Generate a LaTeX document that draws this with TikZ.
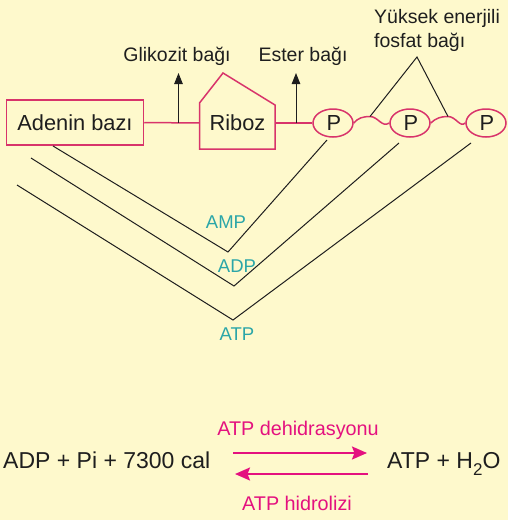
\documentclass[tikz,border=0pt]{standalone}
\usepackage{fontspec}
\setmainfont{Liberation Sans}
\usetikzlibrary{arrows.meta,shapes.geometric}
\definecolor{bg}{HTML}{FEF9CC}
\definecolor{pinkline}{HTML}{D8346B}
\definecolor{mag}{HTML}{E4117F}
\definecolor{tealc}{HTML}{2BA6A8}
\definecolor{ink}{HTML}{1E1E1E}
\newcommand{\fsz}[1]{\fontsize{#1}{#1}\selectfont}
\begin{document}
\begin{tikzpicture}[x=1pt,y=-1pt,
  pinkedge/.style={draw=pinkline,line width=1.5pt},
  thinline/.style={draw=ink,line width=1pt},
  bigtxt/.style={text=ink,font=\fsz{21.8},inner sep=0pt,anchor=base},
  smalltxt/.style={text=ink,font=\fsz{19.5},inner sep=0pt,anchor=base},
  tealtxt/.style={text=tealc,font=\fsz{18.5},inner sep=0pt,anchor=base},
  magtxt/.style={text=mag,font=\fsz{19.8},inner sep=0pt,anchor=base},
  eqtxt/.style={text=ink,font=\fsz{23},inner sep=0pt,anchor=base west},
  pball/.style={ellipse,pinkedge,minimum width=40pt,minimum height=28pt,inner sep=0pt},
  uparrow/.style={thinline,-{Triangle[width=8.5pt,length=11pt]}},
  magarrow/.style={draw=mag,line width=2pt,-{Stealth[width=13pt,length=15pt,inset=2.5pt]}}
]
\fill[bg] (0,0) rectangle (508,520);
\useasboundingbox (0,0) rectangle (508,520);

% Adenin box
\node[pinkedge,minimum width=137pt,minimum height=45pt,inner sep=0pt] (ade) at (75,122.5) {};
\node[bigtxt] (adet) at (75,130) {Adenin bazı};

% Riboz pentagon
\coordinate (ribL) at (199.5,123);
\coordinate (ribR) at (275,123);
\draw[pinkedge,line join=miter] (199.5,149) -- (199.5,103) -- (223,73) -- (275,105) -- (275,149) -- cycle;
\node[bigtxt] (rib) at (237.5,130) {Riboz};

% phosphates
\node[pball] (p1) at (333,123) {};
\node[pball] (p2) at (410,123) {};
\node[pball] (p3) at (486,123) {};
\node[bigtxt] at (334,130) {P};
\node[bigtxt] at (411,130) {P};
\node[bigtxt] at (487,130) {P};

% bonds
\draw[pinkedge] (ade.east) -- (ribL);
\draw[pinkedge] (ribR) -- (p1.west);
\coordinate (w1) at (370,116.5);
\coordinate (w2) at (448,116.5);
\draw[pinkedge] (p1.east) .. controls (358,118) and (363,116.5) .. (w1)
  .. controls (378,116.5) and (382,128) .. (p2.west);
\draw[pinkedge] (p2.east) .. controls (436,118) and (441,116.5) .. (w2)
  .. controls (456,116.5) and (460,128) .. (p3.west);

% bond arrows
\coordinate (g0) at (178.5,123);
\coordinate (g1) at (178.5,73);
\coordinate (e0) at (296,123);
\coordinate (e1) at (296,73);
\draw[uparrow] (g0) -- (g1);
\draw[uparrow] (e0) -- (e1);
\node[smalltxt] (glk) at (177,61) {Glikozit bağı};
\node[smalltxt] (est) at (303,61) {Ester bağı};

% high energy label
\node[smalltxt,anchor=base west] (yk1) at (374,23) {Yüksek enerjili};
\node[smalltxt,anchor=base west] (yk2) at (374,47) {fosfat bağı};
\coordinate (apex) at (417,57);
\draw[thinline] (w1) -- (apex) -- (w2);

% V brackets
\coordinate (amp0) at (53,146);
\coordinate (ampv) at (228,252);
\coordinate (amp1) at (327,140);
\coordinate (adp0) at (31,158);
\coordinate (adpv) at (234,286);
\coordinate (adp1) at (399,143);
\coordinate (atp0) at (17,185);
\coordinate (atpv) at (233,320);
\coordinate (atp1) at (471,143);
\draw[thinline] (amp0) -- (ampv) -- (amp1);
\draw[thinline] (adp0) -- (adpv) -- (adp1);
\draw[thinline] (atp0) -- (atpv) -- (atp1);
\node[tealtxt] (amp) at (226,228) {AMP};
\node[tealtxt] (adp) at (237,272) {ADP};
\node[tealtxt] (atp) at (237,340) {ATP};

% equation
\node[eqtxt] (lhs) at (3,468) {ADP + Pi + 7300 cal};
\node[eqtxt] (rhs) at (387,468) {ATP + H\raisebox{-7pt}{\fsz{17}2}O};
\coordinate (fa) at (233,453);
\coordinate (fb) at (367,453);
\coordinate (ba) at (368,474);
\coordinate (bb) at (235,474);
\draw[magarrow] (fa) -- (fb);
\draw[magarrow] (ba) -- (bb);
\node[magtxt] (deh) at (298,435) {ATP dehidrasyonu};
\node[magtxt] (hid) at (297,510) {ATP hidrolizi};
\end{tikzpicture}
\end{document}
